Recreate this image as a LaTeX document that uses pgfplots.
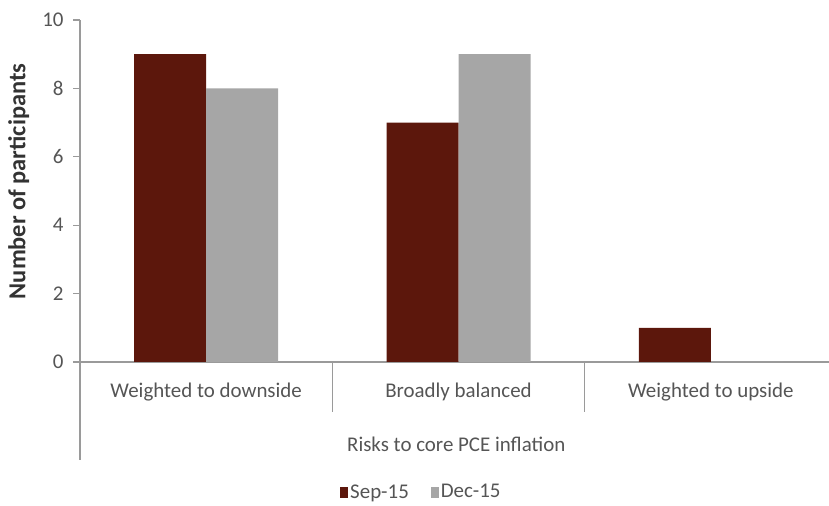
\documentclass[border=0pt]{standalone}
\usepackage{pgfplots}
\pgfplotsset{compat=1.18}
\usepackage{fontspec}
\setmainfont{Carlito}
\definecolor{sepred}{HTML}{5C170C}
\definecolor{decgray}{HTML}{A6A6A6}
\definecolor{axgray}{HTML}{9A9A9A}
\definecolor{txt}{HTML}{555555}
\begin{document}
\begin{tikzpicture}[x=1bp,y=1bp]
\useasboundingbox (0,0) rectangle (829,506);
\begin{axis}[
  at={(80bp,144bp)}, anchor=south west,
  scale only axis, width=757bp, height=342bp,
  xmin=0, xmax=3, ymin=0, ymax=10,
  axis x line*=bottom, axis y line*=left,
  axis line style={axgray, line width=1.2pt},
  /pgf/number format/assume math mode=true,
  xtick={0.5,1.5,2.5},
  xticklabels={Weighted to downside, Broadly balanced, Weighted to upside},
  x tick style={draw=none},
  ytick={0,2,4,6,8,10},
  y tick style={axgray, line width=1.2pt},
  tick align=outside, major tick length=7bp,
  ticklabel style={font=\fontsize{21}{24}\selectfont, text=txt},
  xticklabel style={yshift=-10bp},
  yticklabel style={xshift=-6bp},
  xlabel={Risks to core PCE inflation},
  xlabel style={font=\fontsize{21}{24}\selectfont, text=txt, at={(axis description cs:0.497,-0.24)}, anchor=center},
  ylabel={\textbf{Number of participants}},
  ylabel style={font=\fontsize{24.5}{28}\selectfont, text=black!80, at={(axis description cs:-0.081,0.528)}, anchor=center},
  ybar, bar width=72bp,
  legend style={draw=none, at={(axis description cs:0.451,-0.38)}, anchor=center, legend columns=2,
    font=\fontsize{21}{24}\selectfont, text=txt, inner sep=0pt,
    /tikz/every even column/.append style={column sep=20bp}},
  legend image code/.code={\fill[#1] (2bp,-6bp) rectangle (10bp,5bp);},
  clip=false,
]
\addplot[fill=sepred, draw=none, bar shift=-36bp] coordinates {(0.5,9) (1.5,7) (2.5,1)};
\addplot[fill=decgray, draw=none, bar shift=36bp] coordinates {(0.5,8) (1.5,9) (2.5,0)};
\legend{Sep-15, Dec-15}
\draw[axgray, line width=1.2pt] (axis cs:1,0) -- ++(0,-50bp);
\draw[axgray, line width=1.2pt] (axis cs:2,0) -- ++(0,-50bp);
\draw[axgray, line width=1.2pt] (axis cs:0,0) -- ++(0,-98bp);
\end{axis}
\end{tikzpicture}
\end{document}
